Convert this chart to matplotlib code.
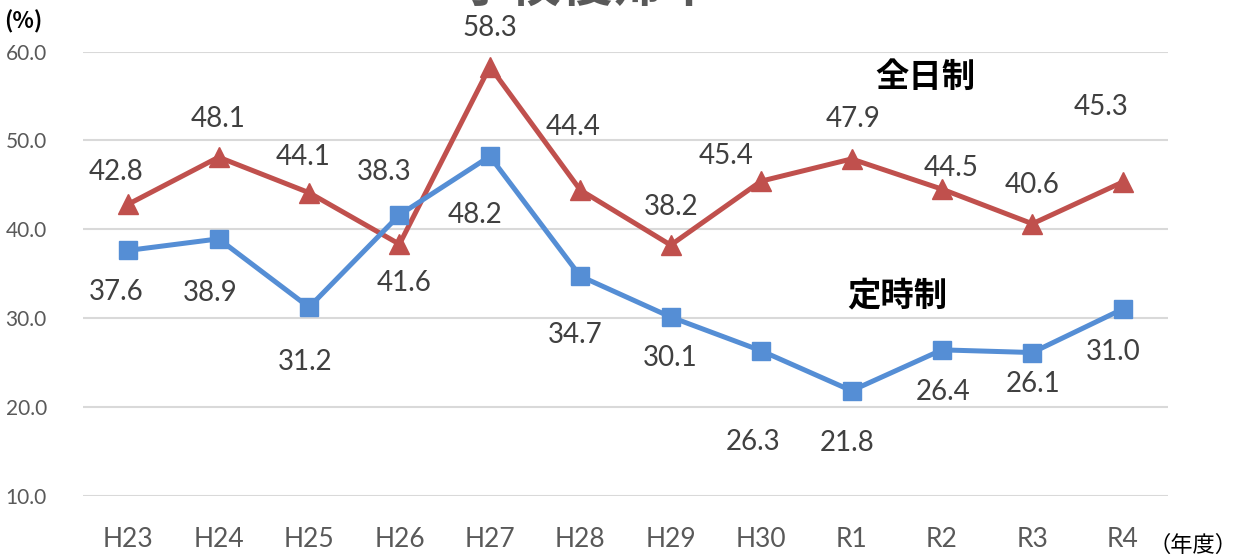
import matplotlib
matplotlib.use("Agg")
import matplotlib.pyplot as plt

plt.rcParams['font.family'] = ['Lato', 'Noto Sans CJK JP', 'DejaVu Sans']

categories = ["H23", "H24", "H25", "H26", "H27", "H28", "H29", "H30", "R1", "R2", "R3", "R4"]
zennichi = [42.8, 48.1, 44.1, 38.3, 58.3, 44.4, 38.2, 45.4, 47.9, 44.5, 40.6, 45.3]
teiji = [37.6, 38.9, 31.2, 41.6, 48.2, 34.7, 30.1, 26.3, 21.8, 26.4, 26.1, 31.0]
yticks = [10, 20, 30, 40, 50, 60]

# label offsets in pixels (dx, dy) relative to the data point
zen_off = [(-12, 32), (0, 38), (-6, 36), (-15, 72), (0, 39), (-7, 63),
           (0, 38), (-35, 25), (2, 40), (9, 21), (0, 39), (-22, 75)]
tei_off = [(-12, -42), (-8, -54), (-4, -55), (5, -68), (-15, -59), (-5, -59),
           (0, -41), (-8, -91), (-4, -52), (1, -42), (1, -31), (-10, -43)]

RED = "#C0504D"
BLUE = "#558ED5"
LABEL = "#404040"
TICK = "#595959"

fig = plt.figure(figsize=(12.33, 5.58), dpi=100)
ax = fig.add_axes([83/1233, 1-495.5/558, (1168-83)/1233, (495.5-51.5)/558])

x = list(range(len(categories)))
ax.plot(x, zennichi, color=RED, lw=3.6, marker='^', ms=15, zorder=3, clip_on=False)
ax.plot(x, teiji, color=BLUE, lw=3.6, marker='s', ms=13, zorder=3, clip_on=False)

for xi, v, (dx, dy) in zip(x, zennichi, zen_off):
    ax.annotate(f"{v:.1f}", (xi, v), xytext=(dx, dy), textcoords='offset pixels',
                ha='center', va='center', fontsize=20, color=LABEL)
for xi, v, (dx, dy) in zip(x, teiji, tei_off):
    ax.annotate(f"{v:.1f}", (xi, v), xytext=(dx, dy), textcoords='offset pixels',
                ha='center', va='center', fontsize=20, color=LABEL)

ax.set_xlim(-0.5, len(categories) - 0.5)
ax.set_ylim(10, 60)
ax.set_yticks(yticks)
ax.set_yticklabels([f"{t:.1f}" for t in yticks])
ax.set_xticks(x)
ax.set_xticklabels(categories)
ax.grid(axis='y', color='#D9D9D9', lw=1.5)
ax.set_axisbelow(True)
for s in ax.spines.values():
    s.set_visible(False)
ax.tick_params(axis='both', length=0)
ax.tick_params(axis='y', labelsize=15, labelcolor=TICK, pad=26)
ax.tick_params(axis='x', labelsize=19, labelcolor=TICK, pad=23)

fig.text(925/1233, 1-77/558, "全日制", family=['Noto Sans CJK JP'], fontsize=24,
         fontweight='bold', color='black', ha='center', va='center')
fig.text(897/1233, 1-296/558, "定時制", family=['Noto Sans CJK JP'], fontsize=24,
         fontweight='bold', color='black', ha='center', va='center')
fig.text(23/1233, 1-22/558, "(%)", family=['Noto Sans CJK JP'], fontsize=16,
         fontweight='bold', color='black', ha='center', va='center')
fig.text(1148/1233, 1-545/558, "（年度）", family=['Noto Sans CJK JP'], fontsize=16,
         color='black', ha='left', va='center')
fig.text(587/1233, 1-2/558, "学校復帰率", family=['Noto Sans CJK JP'], fontsize=37,
         fontweight='bold', color=TICK, ha='center', va='baseline')

fig.savefig("out.png", dpi=100)
